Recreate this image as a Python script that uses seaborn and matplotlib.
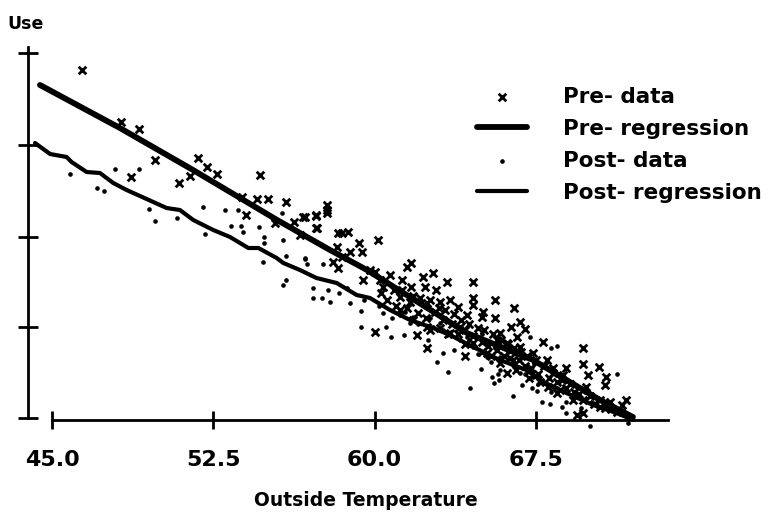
import matplotlib.pyplot as plt
import seaborn as sns

pre_x = [46.38, 48.19, 49.06, 49.79, 48.66, 50.92, 51.42, 51.81, 52.19, 52.66, 54.67, 54.02, 54.52, 55.03, 55.88,
         53.82, 55.37, 56.26, 56.69, 57.28, 57.31, 57.78, 56.53, 57.77, 57.77, 57.27, 56.76, 57.27, 58.31, 58.51,
         58.78, 60.17, 59.29, 59.4, 58.86, 58.24, 58.47, 58.08, 58.31, 61.72, 61.49, 62.73, 62.24, 63.35, 64.59,
         62.34, 62.86, 65.6, 66.48, 64.59, 64.59, 63.51, 63.89, 65.06, 65.6, 66.76, 66.37, 66.99, 60.02, 61.96,
         62.45, 64.2, 69.68, 69.68, 70.45, 69.94, 70.79, 70.72, 67.85, 68.93, 68.78, 71.72, 71.49, 69.71, 69.4,
         60.02, 60.25, 59.48, 60.72, 61.26, 61.72, 61.18, 61.65, 62.42, 63.04, 64.28, 64.98, 65.83, 66.14, 66.76,
         66.14, 65.83, 67.38, 68.0, 68.08, 68.62, 69.24, 69.86, 70.48, 70.95, 63.51, 63.04, 64.59, 65.21, 66.45,
         67.23, 67.69, 68.31, 61.18, 61.8, 62.42, 63.97, 65.68, 66.61, 68.47, 60.4, 59.79,
         60.3, 60.6, 60.9, 61.0, 61.3, 61.5, 61.8, 62.0, 62.1, 62.4, 62.6, 62.8, 63.0, 63.2, 63.3,
         63.6, 63.7, 63.9, 64.0, 64.2, 64.4, 64.6, 64.8, 65.0, 65.1, 65.3, 65.5, 65.7, 65.9, 66.0,
         66.2, 66.3, 66.5, 66.7, 66.8, 67.0, 67.1, 67.3, 67.5, 67.6, 67.9, 68.1, 68.3, 68.5, 68.7,
         68.9, 69.1, 69.3, 69.5, 69.7, 70.0, 70.2, 70.5, 70.7, 71.0, 71.3, 65.4, 65.0, 66.6, 67.2,
         64.2, 63.4, 62.6]
pre_y = [348, 296, 289, 258, 241, 235, 242, 260, 251, 244, 243, 203, 219, 219, 216,
         221, 195, 196, 201, 202, 190, 208, 183, 213, 205, 203, 201, 190, 185, 185,
         186, 178, 175, 166, 166, 171, 161, 156, 150, 155, 151, 145, 141, 136, 136,
         131, 128, 118, 110, 120, 113, 118, 111, 106, 100, 96, 91, 89, 86, 83,
         70, 62, 70, 54, 51, 43, 41, 33, 76, 50, 43, 18, 13, 5, 3,
         146, 138, 138, 143, 138, 131, 121, 116, 115, 116, 103, 101, 85, 75, 71,
         45, 55, 65, 58, 31, 28, 18, 31, 11, 16, 85, 90, 75, 65, 58,
         48, 36, 45, 108, 98, 91, 91, 78, 81, 25, 131, 148,
         125, 118, 128, 112, 128, 110, 122, 105, 120, 100, 118, 106, 110, 98, 108,
         94, 104, 84, 98, 88, 94, 82, 90, 76, 88, 72, 84, 68, 78, 62,
         74, 60, 70, 58, 66, 52, 62, 50, 58, 44, 52, 40, 50, 36, 38,
         30, 34, 26, 24, 18, 22, 14, 18, 10, 9, 6, 62, 66, 48, 40,
         74, 84, 88]

post_x = [45.84, 47.93, 49.06, 47.08, 47.43, 49.53, 49.79, 50.8, 52.0, 53.05, 53.67, 53.33, 53.78, 53.9, 54.64,
          54.86, 54.86, 55.76, 55.68, 52.12, 55.88, 56.77, 54.8, 55.74, 55.9, 56.76, 56.87, 57.62, 57.12, 57.12,
          57.58, 57.85, 58.36, 57.93, 58.86, 59.35, 59.35, 60.53, 60.41, 60.75, 61.38, 62.47, 63.2, 62.93, 63.71,
          63.43, 64.44, 64.95, 65.45, 65.57, 65.8, 65.75, 66.45, 66.84, 67.34, 67.57, 67.77, 68.16, 68.7, 68.89,
          70.02, 71.8, 71.3, 68.47, 68.19, 67.23, 65.21, 66.14, 64.28, 63.35, 62.73, 61.8, 61.18, 61.65, 63.04,
          63.97, 64.59, 65.83, 66.61, 67.38, 68.31, 69.24, 70.17, 65.83, 66.76,
          60.2, 60.8, 61.4, 62.0, 62.6, 63.2, 63.8, 64.4, 65.0, 65.6, 66.2, 66.8, 67.4, 68.0, 68.6,
          69.2, 69.8, 70.4, 71.0, 71.5, 64.8, 65.4, 66.4, 67.0, 67.6, 68.2, 68.9, 69.6, 59.5, 58.7]
post_y = [244, 249, 249, 230, 227, 209, 197, 200, 211, 208, 208, 192, 192, 186, 191,
          181, 175, 178, 205, 184, 162, 160, 156, 133, 138, 159, 154, 154, 130, 120,
          120, 128, 125, 116, 115, 107, 91, 91, 105, 81, 83, 78, 65, 56, 68,
          46, 30, 49, 41, 35, 38, 44, 22, 33, 30, 27, 16, 14, 11, 5,
          -8, -5, 44, 72, 70, 81, 61, 71, 81, 85, 91, 101, 103, 95, 95,
          78, 71, 61, 51, 41, 31, 21, 15, 48, 45,
          112, 100, 106, 94, 100, 88, 92, 78, 84, 70, 66, 60, 54, 50, 42,
          36, 26, 20, 14, 8, 64, 56, 54, 44, 34, 26, 16, 10, 118, 130]

pre_reg_x = [44.44, 48.16, 51.56, 55.47, 57.93, 59.65, 64.3, 67.37, 70.49, 72.02]
pre_reg_y = [333, 290, 248, 198, 168, 148, 85, 58, 18, 1]

post_reg_x = [44.21, 44.91, 45.68, 45.91, 46.61, 47.23, 47.85, 48.47, 49.4, 50.33, 50.95, 51.57, 52.5, 53.28, 54.13,
              54.6, 55.45, 55.76, 56.53, 57.3, 58.24, 59.17, 59.79, 60.72, 61.65, 62.73, 63.51, 64.59, 65.83, 67.07,
              67.85, 68.93, 70.17, 71.26, 72.03]
post_reg_y = [275, 264, 261, 256, 246, 245, 235, 228, 219, 210, 208, 198, 188, 181, 170,
              170, 160, 155, 148, 140, 135, 123, 120, 108, 98, 90, 83, 71, 58, 48,
              36, 25, 13, 5, -2]

x_ticks = [45.0, 52.5, 60.0, 67.5]
y_ticks = [0, 91, 181, 273, 365]

sns.set_theme(style='ticks')
plt.rcParams['font.family'] = ['DejaVu Sans']
plt.rcParams['font.weight'] = 'bold'
plt.rcParams['text.color'] = 'black'
plt.rcParams['axes.labelcolor'] = 'black'
plt.rcParams['xtick.labelcolor'] = 'black'

W, H = 769, 517
fig = plt.figure(figsize=(W / 100, H / 100), dpi=100)
ax = fig.add_axes([28 / W, 1 - 440 / H, (668 - 28) / W, (440 - 47) / H])

sns.scatterplot(x=pre_x, y=pre_y, marker='x', color='black', s=30, linewidth=2, label='Pre- data', ax=ax)
sns.lineplot(x=pre_reg_x, y=pre_reg_y, color='black', linewidth=4.2, label='Pre- regression', ax=ax,
             estimator=None, solid_capstyle='round')
sns.scatterplot(x=post_x, y=post_y, marker='o', color='black', s=11, linewidth=0, label='Post- data', ax=ax)
sns.lineplot(x=post_reg_x, y=post_reg_y, color='black', linewidth=3, label='Post- regression', ax=ax,
             estimator=None)

ax.set_xlim(45 + (28 - 52) / 21.5, 45 + (668 - 52) / 21.5)
ax.set_ylim(-22, 371)
ax.patch.set_alpha(0)

ax.spines['top'].set_visible(False)
ax.spines['right'].set_visible(False)
ax.spines['left'].set_bounds(0, 371)
ax.spines['left'].set_linewidth(2)
ax.spines['left'].set_color('black')
ax.spines['bottom'].set_position(('data', -2))
ax.spines['bottom'].set_bounds(45, 45 + (668 - 52) / 21.5)
ax.spines['bottom'].set_linewidth(2)
ax.spines['bottom'].set_color('black')

ax.set_xticks(x_ticks)
ax.set_xticklabels([f'{t:.1f}' for t in x_ticks], fontsize=16, fontweight='bold')
ax.set_yticks(y_ticks)
ax.set_yticklabels([])
ax.tick_params(axis='x', direction='inout', length=13, width=2, pad=15, color='black')
ax.tick_params(axis='y', direction='inout', length=14, width=2, color='black')

ax.set_xlabel('Outside Temperature', fontsize=13.5, fontweight='bold')
ax.xaxis.set_label_coords((366 - 28) / 640, -(491 - 440) / 393)
ax.set_ylabel('Use', rotation=0, fontsize=12.5, fontweight='bold', ha='center', va='bottom')
ax.yaxis.set_label_coords((26 - 28) / 640, (440 - 33) / 393)

ax.legend(loc='upper left', bbox_to_anchor=(477 / W, 1 - 87 / H), bbox_transform=fig.transFigure,
          frameon=False, fontsize=15.5, handlelength=2.3, handletextpad=1.7, labelspacing=0.55,
          borderpad=0, borderaxespad=0)

plt.savefig('out.png', dpi=100)
plt.close()
